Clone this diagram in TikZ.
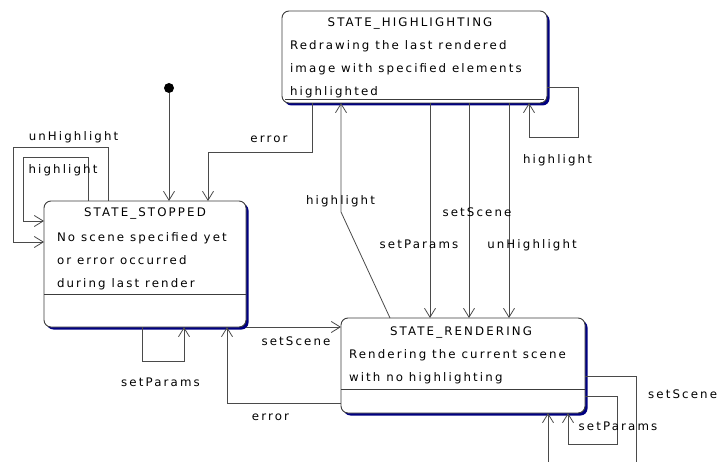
\documentclass[tikz,border=0pt]{standalone}
\usepackage{fontspec}
\setmainfont{DejaVu Sans}[LetterSpace=18]
\usetikzlibrary{arrows.meta,shadows}
\definecolor{boxc}{HTML}{3C3C3C}
\definecolor{linec}{HTML}{4A4A4A}
\definecolor{shadowc}{HTML}{000080}
\begin{document}
\begin{tikzpicture}[x=1pt,y=-1pt,
  every node/.style={inner sep=0pt, outer sep=0pt, font=\fontsize{11.8}{13}\selectfont},
  statebox/.style={draw=boxc, line width=0.9pt, rounded corners=7pt, fill=white,
    drop shadow={shadow xshift=2.5pt,shadow yshift=-2.5pt,fill=shadowc,opacity=1}},
  conn/.style={draw=linec, line width=0.8pt, -{Straight Barb[length=9pt,width=11pt,line width=0.8pt]}},
  lbl/.style={anchor=base, text=black},
  titletext/.style={anchor=base},
  bodytext/.style={anchor=base west},
  sepline/.style={draw=boxc, line width=0.8pt}]
\path[use as bounding box] (0,0) rectangle (719,462);
\clip (0,0) rectangle (719,462);

% states
\node[statebox, minimum width=202pt, minimum height=126pt] (stopped) at (145,264) {};
\node[statebox, minimum width=265pt, minimum height=92pt] (highl) at (414.5,57) {};
\node[statebox, minimum width=244pt, minimum height=95pt] (rend) at (463,365.5) {};

\node[titletext] (stoppedT) at (145,217) {STATE\_STOPPED};
\node[bodytext] (stoppedL1) at (57,241) {No scene specified yet};
\node[bodytext] (stoppedL2) at (57,264) {or error occurred};
\node[bodytext] (stoppedL3) at (57,287) {during last render};
\draw[sepline] ([yshift=33pt]stopped.south west) -- ([yshift=33pt]stopped.south east);

\node[titletext] (highlT) at (410,27) {STATE\_HIGHLIGHTING};
\node[bodytext] (highlL1) at (290,50) {Redrawing the last rendered};
\node[bodytext] (highlL2) at (290,73) {image with specified elements};
\node[bodytext] (highlL3) at (290,96) {highlighted};
\draw[sepline] ([xshift=3pt,yshift=4pt]highl.south west) -- ([xshift=-3pt,yshift=4pt]highl.south east);

\node[titletext] (rendT) at (461,335) {STATE\_RENDERING};
\node[bodytext] (rendL1) at (349,358) {Rendering the current scene};
\node[bodytext] (rendL2) at (349,381) {with no highlighting};
\draw[sepline] ([yshift=24pt]rend.south west) -- ([yshift=24pt]rend.south east);

% initial
\node[circle, fill=black, minimum size=10pt] (init) at (169,88) {};
\draw[conn] (init) -- (init |- stopped.north);

% helper coordinates
\coordinate (eHS) at (312,152);
\coordinate (eHSx) at (208,0);
\coordinate (hlA) at (88,157);
\coordinate (hlB) at (23,221);
\coordinate (uhA) at (108,147);
\coordinate (uhB) at (13,242);
\coordinate (spA) at (142,361);
\coordinate (spB) at (184,361);
\coordinate (eRS) at (227,403);
\coordinate (hRH0) at (390,0);
\coordinate (hRH) at (341,212);
\coordinate (vP) at (430,0);
\coordinate (vS) at (469,0);
\coordinate (vU) at (509,0);
\coordinate (hhA) at (578,87);
\coordinate (hhB) at (529,137);
\coordinate (rsA) at (636,376);
\coordinate (rsB) at (636,475);
\coordinate (rsC) at (548,475);
\coordinate (rpA) at (617,396);
\coordinate (rpB) at (617,444);
\coordinate (rpC) at (568,444);

% transitions
\draw[conn] (highl.south -| eHS) -- (eHS) -| (stopped.north -| eHSx);
\draw[conn] (stopped.north -| hlA) -- (hlA) -| (hlB) -- (stopped.west |- hlB);
\draw[conn] (stopped.north -| uhA) -- (uhA) -| (uhB) -- (stopped.west |- uhB);
\draw[conn] (stopped.south -| spA) -- (spA) -- (spB) -- (stopped.south -| spB);
\draw[conn] (stopped.south east) -- (stopped.south east -| rend.west);
\draw[conn] (rend.west |- eRS) -| (stopped.south -| eRS);
\draw[conn] (rend.north -| hRH0) -- (hRH) -- (highl.south -| hRH);
\draw[conn] (highl.south -| vP) -- (rend.north -| vP);
\draw[conn] (highl.south -| vS) -- (rend.north -| vS);
\draw[conn] (highl.south -| vU) -- (rend.north -| vU);
\draw[conn] (highl.east |- hhA) -- (hhA) |- (hhB) -- (highl.south -| hhB);
\draw[conn] (rend.east |- rsA) -- (rsA) -- (rsB) -- (rsC) -- (rend.south -| rsC);
\draw[conn] (rend.east |- rpA) -- (rpA) -- (rpB) -- (rpC) -- (rend.south -| rpC);

% labels
\node[lbl] (lErrHS) at (269,143) {error};
\node[lbl] (lUnH) at (73.5,141) {unHighlight};
\node[lbl] (lHS) at (63,174) {highlight};
\node[lbl] (lSPs) at (160.5,386) {setParams};
\node[lbl] (lSS) at (296,345) {setScene};
\node[lbl] (lErrRS) at (270.5,420) {error};
\node[lbl] (lHRH) at (340.5,205) {highlight};
\node[lbl] (lSP) at (419,248) {setParams};
\node[lbl] (lSSc) at (477,217) {setScene};
\node[lbl] (lUn) at (532,248) {unHighlight};
\node[lbl] (lHH) at (557.5,164) {highlight};
\node[lbl, anchor=base east] (lRSS) at (717,398) {setScene};
\node[lbl] (lRSP) at (618,430) {setParams};
\end{tikzpicture}
\end{document}
